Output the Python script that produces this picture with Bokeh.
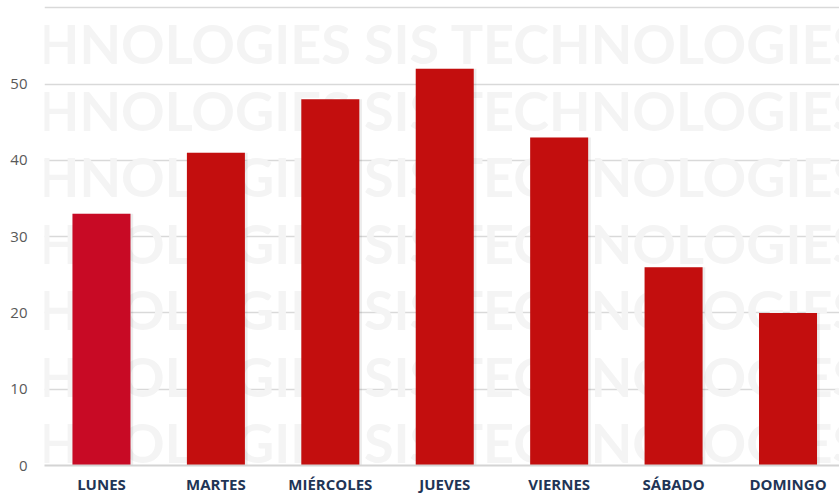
from bokeh.plotting import figure
from bokeh.models import Range1d, FixedTicker, Label, ColumnDataSource
from bokeh.transform import dodge
from bokeh.embed import file_html
from bokeh.resources import INLINE

# ---- data ----
days = ["LUNES", "MARTES", "MIÉRCOLES", "JUEVES", "VIERNES", "SÁBADO", "DOMINGO"]
values = [33, 41, 48, 52, 43, 26, 20]
y_ticks = [0, 10, 20, 30, 40, 50, 60]

# ---- styles ----
bar_colors = ["#C80A25", "#C30E0E", "#C30E0E", "#C30E0E", "#C30E0E", "#C30E0E", "#C30E0E"]
positions = list(range(len(days)))

source = ColumnDataSource(dict(x=positions, top=values, color=bar_colors, day=days))

p = figure(width=839, height=496, output_backend="svg", toolbar_location=None,
           x_range=Range1d(-0.498, 6.45), y_range=Range1d(0, 60.95),
           min_border_left=44, min_border_right=0, min_border_top=0, min_border_bottom=31)
p.outline_line_color = None
p.background_fill_color = "white"
p.border_fill_color = "white"

# watermark rows
for k in range(8):
    p.add_layout(Label(x=-105, y=422 - 66.5 * k, x_units="screen", y_units="screen",
                       text="TECHNOLOGIES SIS TECHNOLOGIES SIS",
                       text_font="Lato", text_font_style="bold", text_font_size="54px",
                       text_color="#f4f4f4", text_baseline="middle", level="underlay"))

# subtle bar shadow
p.vbar(x=dodge("x", 0.012, range=p.x_range), top="top", width=0.53, source=source,
       fill_color="#000000", fill_alpha=0.07, line_color=None)
p.vbar(x="x", top="top", width=0.507, fill_color="color", line_color=None, source=source)

p.xgrid.grid_line_color = None
p.ygrid.grid_line_color = "#d9d9d9"
p.ygrid.grid_line_width = 1.3

p.yaxis.ticker = FixedTicker(ticks=y_ticks)
p.yaxis.major_label_overrides = {60: ""}
p.yaxis.axis_line_color = None
p.yaxis.major_tick_line_color = None
p.yaxis.minor_tick_line_color = None
p.yaxis.major_tick_out = 0
p.yaxis.major_tick_in = 0
p.yaxis.major_label_standoff = 17
p.yaxis.major_label_text_font = "Open Sans"
p.yaxis.major_label_text_font_size = "15px"
p.yaxis.major_label_text_color = "#595959"

p.xaxis.ticker = FixedTicker(ticks=positions)
p.xaxis.major_label_overrides = {i: d for i, d in zip(positions, days)}
p.xaxis.axis_line_color = "#d4d4d4"
p.xaxis.axis_line_width = 2
p.xaxis.major_tick_line_color = None
p.xaxis.minor_tick_line_color = None
p.xaxis.major_tick_out = 0
p.xaxis.major_tick_in = 0
p.xaxis.major_label_standoff = 8
p.xaxis.major_label_text_font = "Open Sans"
p.xaxis.major_label_text_font_style = "bold"
p.xaxis.major_label_text_font_size = "15px"
p.xaxis.major_label_text_color = "#1F3556"

open("out.html", "w").write(file_html(p, INLINE))
